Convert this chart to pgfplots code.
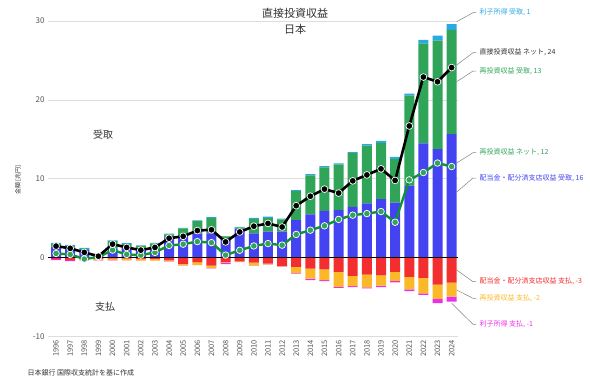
\documentclass[border=0pt]{standalone}
\usepackage{fontspec}
\setmainfont{Noto Sans CJK JP}
\usepackage{pgfplots}
\usepackage{pgfplotstable}
\pgfplotsset{compat=1.18}

\definecolor{cB}{HTML}{4343F2}
\definecolor{cG}{HTML}{30A55A}
\definecolor{cC}{HTML}{2AAAE2}
\definecolor{cR}{HTML}{F22E2E}
\definecolor{cO}{HTML}{FBB829}
\definecolor{cM}{HTML}{EE2EEE}
\definecolor{cGL}{HTML}{12903A}
\definecolor{cGrid}{HTML}{DDDDDD}
\definecolor{cTick}{HTML}{555555}
\definecolor{cTxt}{HTML}{333333}
\definecolor{cLead}{HTML}{808080}

\pgfplotstableread{
x B G C R O M N RN
0 1.40 0.35 0.15 -0.15 0.00 -0.15 1.48 0.55
1 1.30 0.20 0.15 -0.30 0.00 -0.12 1.19 0.42
2 1.00 0.12 0.15 -0.10 -0.10 -0.14 0.68 -0.16
3 0.20 0.25 0.05 -0.15 -0.19 -0.02 0.20 0.09
4 1.10 1.00 0.10 -0.10 -0.20 -0.02 1.73 0.97
5 1.26 0.50 0.10 -0.12 -0.20 -0.02 1.31 0.42
6 0.99 0.50 0.08 -0.15 -0.20 -0.02 0.97 0.34
7 1.03 0.80 0.07 -0.15 -0.20 -0.02 1.31 0.68
8 2.60 0.35 0.10 -0.34 -0.12 -0.03 2.48 1.56
9 2.75 0.97 0.08 -0.76 -0.21 -0.03 2.72 1.72
10 3.05 1.60 0.08 -0.55 -0.34 -0.03 3.45 2.05
11 3.10 1.97 0.08 -1.00 -0.30 -0.05 3.55 1.92
12 2.40 0.30 0.05 -0.55 -0.05 -0.20 2.01 0.34
13 3.70 0.15 0.05 -0.46 -0.05 -0.03 3.27 0.95
14 3.10 1.81 0.15 -0.60 -0.40 -0.03 4.00 1.50
15 3.30 1.75 0.15 -0.75 -0.10 -0.03 4.35 1.80
16 3.30 1.55 0.10 -1.05 -0.05 -0.03 3.90 1.60
17 4.77 3.68 0.12 -1.15 -0.80 -0.05 6.60 2.96
18 5.50 4.95 0.15 -1.37 -1.28 -0.18 7.80 3.50
19 5.95 5.50 0.15 -1.47 -1.35 -0.15 8.70 4.05
20 6.04 5.76 0.15 -1.78 -1.90 -0.12 8.20 4.86
21 6.46 6.79 0.15 -2.30 -1.30 -0.12 9.75 5.40
22 6.90 7.30 0.20 -2.15 -1.60 -0.14 10.50 5.60
23 7.43 7.12 0.25 -2.22 -1.32 -0.17 11.27 5.86
24 7.00 5.50 0.30 -1.79 -1.13 -0.20 9.80 4.50
25 9.15 11.40 0.25 -2.43 -1.56 -0.22 16.70 9.87
26 14.50 12.67 0.43 -2.55 -1.95 -0.21 22.90 10.80
27 13.76 13.75 0.65 -3.40 -1.80 -0.55 22.30 12.00
28 15.66 13.20 0.75 -3.14 -1.78 -0.63 24.10 11.56
}\data

\pgfplotsset{
  base/.style={
    scale only axis, width=410pt, height=315.7pt,
    at={(48pt,47.3pt)}, anchor=south west,
    xmin=-0.57, xmax=28.45, ymin=-10, ymax=30,
    axis line style={draw=none}, major tick length=0pt,
  },
  hidden/.style={base, xtick=\empty, ytick=\empty},
}

\begin{document}
\begin{tikzpicture}[x=1pt,y=1pt]
\useasboundingbox (0,0) rectangle (590,384);

% positive stacked bars, grid and ticks
\begin{axis}[base,
  ybar stacked, bar width=10pt,
  ytick={-10,0,10,20,30},
  ymajorgrids, grid style={cGrid, line width=0.8pt},
  yticklabel style={cTick, font=\fontsize{8}{8}\selectfont},
  /pgf/number format/assume math mode=true,
  xtick={0,...,28},
  xticklabels={1996,1997,1998,1999,2000,2001,2002,2003,2004,2005,2006,2007,2008,2009,2010,2011,2012,2013,2014,2015,2016,2017,2018,2019,2020,2021,2022,2023,2024},
  xticklabel style={rotate=90, anchor=east, cTick, font=\fontsize{7.5}{7.5}\selectfont},
]
\addplot[fill=cB, draw=none] table[x=x, y=B]{\data};
\addplot[fill=cG, draw=none] table[x=x, y=G]{\data};
\addplot[fill=cC, draw=none] table[x=x, y=C]{\data};
\end{axis}

% negative stacked bars
\begin{axis}[hidden, ybar stacked, bar width=10pt]
\addplot[fill=cR, draw=none] table[x=x, y=R]{\data};
\addplot[fill=cO, draw=none] table[x=x, y=O]{\data};
\addplot[fill=cM, draw=none] table[x=x, y=M]{\data};
\draw[black, line width=1.3pt] (axis cs:-0.57,0) -- (axis cs:28.45,0);
\end{axis}

% lines
\begin{axis}[hidden, clip=false]
\addplot[cGL, line width=2.4pt, mark=*, mark size=3.3pt,
  mark options={fill=cG, draw=white, line width=0.7pt}] table[x=x, y=RN]{\data};
\addplot[black, line width=2.6pt, mark=*, mark size=3.4pt,
  mark options={fill=black, draw=white, line width=0.7pt}] table[x=x, y=N]{\data};
\end{axis}

% titles and texts
\node[fill=white, inner sep=3pt, text=cTxt, font=\fontsize{11}{11}\selectfont] at (295,371) {直接投資収益};
\node[text=cTxt, font=\fontsize{11}{11}\selectfont] at (295,355) {日本};
\node[text=cTxt, font=\fontsize{10}{10}\selectfont] at (103,249) {受取};
\node[text=cTxt, font=\fontsize{10}{10}\selectfont] at (105,77) {支払};
\node[rotate=90, text=cTxt, font=\fontsize{6}{6}\selectfont] at (18,204) {金額 [兆円]};
\node[anchor=west, text=cTxt, font=\fontsize{7}{7}\selectfont] at (24,11.3) {日本銀行 国際収支統計を基に作成};

% leader lines and right labels
\begin{scope}[cLead, line width=0.5pt]
\draw (456.7,362.3) -- (473,371.3) -- (476,371.3);
\draw (456.7,319) -- (473,331.3) -- (476,331.3);
\draw (456.7,302.3) -- (473,313) -- (476,313);
\draw (456.7,221) -- (473,231.3) -- (476,231.3);
\draw (456.7,192) -- (473,206) -- (476,206);
\draw (456.7,114) -- (473,102.3) -- (476,102.3);
\draw (456.7,94) -- (473,85.7) -- (476,85.7);
\draw (451.7,80.7) -- (473,59.7) -- (476,59.7);
\end{scope}
\begin{scope}[font=\fontsize{7}{7}\selectfont]
\node[anchor=west, text=cC] at (476,371.3) {利子所得 受取, 1};
\node[anchor=west, text=cTxt] at (476,331.3) {直接投資収益 ネット, 24};
\node[anchor=west, text=cG] at (476,313) {再投資収益 受取, 13};
\node[anchor=west, text=cG] at (476,231.3) {再投資収益 ネット, 12};
\node[anchor=west, text=cB] at (476,206) {配当金・配分済支店収益 受取, 16};
\node[anchor=west, text=cR] at (476,102.3) {配当金・配分済支店収益 支払, -3};
\node[anchor=west, text=cO] at (476,85.7) {再投資収益 支払, -2};
\node[anchor=west, text=cM] at (476,59.7) {利子所得 支払, -1};
\end{scope}
\end{tikzpicture}
\end{document}
